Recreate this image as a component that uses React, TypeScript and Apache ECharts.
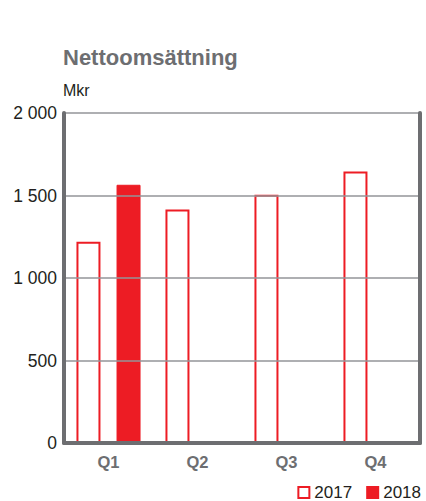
import React, { useEffect, useRef } from "react";
import * as echarts from "echarts";

const categories = ["Q1", "Q2", "Q3", "Q4"];
const values2017 = [1220, 1415, 1505, 1645];
const values2018: (number | null)[] = [1565, null, null, null];
const seriesNames = ["2017", "2018"];
const yTicks = { min: 0, max: 2000, interval: 500 };
const title = "Nettoomsättning";
const unit = "Mkr";

const RED = "#ed1c24";
const AXIS = "#6d6e71";
const GRID = "#939598";
const TEXT = "#231f20";
const FONT = "Liberation Sans";

function fmt(v: number) {
  const s = String(v);
  return s.length > 3 ? s.slice(0, s.length - 3) + " " + s.slice(-3) : s;
}

export default function App() {
  const ref = useRef<HTMLDivElement>(null);
  useEffect(() => {
    if (!ref.current) return;
    const chart = echarts.init(ref.current, null, { renderer: "svg" });
    chart.setOption({
      animation: false,
      textStyle: { fontFamily: FONT },
      graphic: [
        {
          type: "text",
          x: 63,
          y: 57,
          style: {
            text: title,
            fill: AXIS,
            fontSize: 22,
            fontWeight: "bold",
            fontFamily: FONT,
            verticalAlign: "middle",
          },
        },
        {
          type: "text",
          x: 63,
          y: 90,
          style: {
            text: unit,
            fill: TEXT,
            fontSize: 16,
            fontFamily: FONT,
            verticalAlign: "middle",
          },
        },
      ],
      legend: {
        right: 5,
        top: 484,
        padding: 0,
        itemWidth: 11,
        itemHeight: 11,
        itemGap: 14,
        icon: "rect",
        textStyle: { color: TEXT, fontSize: 17, fontFamily: FONT },
        data: seriesNames,
      },
      grid: { left: 64, right: 6, top: 113, bottom: 58, containLabel: false },
      xAxis: {
        type: "category",
        data: categories,
        z: 10,
        axisLine: { lineStyle: { color: AXIS, width: 4 } },
        axisTick: { show: false },
        axisLabel: {
          color: AXIS,
          fontSize: 16.5,
          fontWeight: "bold",
          fontFamily: FONT,
          margin: 10,
        },
      },
      yAxis: [
        {
          type: "value",
          min: yTicks.min,
          max: yTicks.max,
          interval: yTicks.interval,
          z: 10,
          axisLine: { show: true, lineStyle: { color: AXIS, width: 4 } },
          axisTick: { show: false },
          axisLabel: {
            color: TEXT,
            fontSize: 17.5,
            fontFamily: FONT,
            margin: 7,
            formatter: (v: number) => fmt(v),
          },
          splitLine: { show: true, lineStyle: { color: GRID, width: 1.5 } },
        },
        {
          type: "value",
          position: "right",
          min: yTicks.min,
          max: yTicks.max,
          interval: yTicks.interval,
          z: 10,
          axisLine: { show: true, lineStyle: { color: AXIS, width: 4 } },
          axisTick: { show: false },
          axisLabel: { show: false },
          splitLine: { show: false },
        },
      ],
      series: [
        {
          name: seriesNames[0],
          type: "bar",
          data: values2017,
          barWidth: 24,
          barGap: "67%",
          itemStyle: { color: "#ffffff", borderColor: RED, borderWidth: 2 },
        },
        {
          name: seriesNames[1],
          type: "bar",
          data: values2018,
          barWidth: 24,
          itemStyle: { color: RED, borderColor: RED, borderWidth: 1 },
        },
      ],
    });
    return () => chart.dispose();
  }, []);
  return <div ref={ref} style={{ width: 426, height: 501, position: "absolute", left: 0, top: 0 }} />;
}
